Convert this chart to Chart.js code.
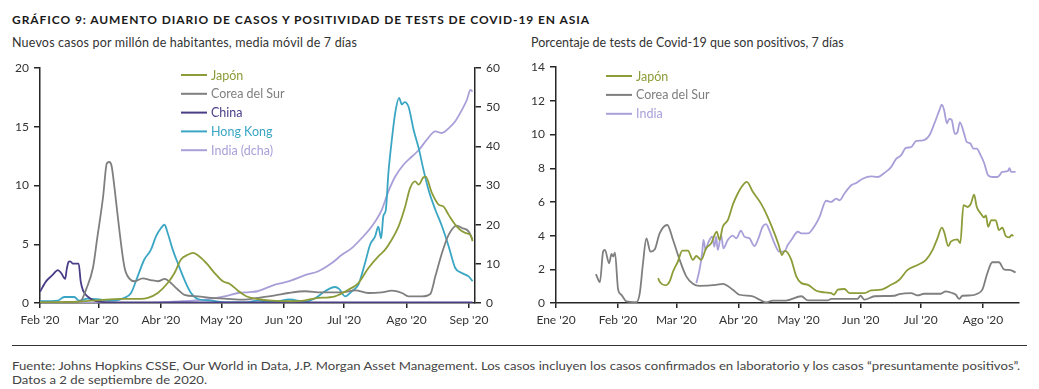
<!DOCTYPE html>
<html>
<head>
<meta charset="utf-8">
<script src="https://cdn.jsdelivr.net/npm/chart.js@4.4.1/dist/chart.umd.min.js"></script>
<style>
  body { margin: 0; width: 1039px; height: 389px; background: #fff; position: relative; overflow: hidden; font-family: Lato, "Open Sans", sans-serif; }
  .t { position: absolute; white-space: nowrap; }
  #title { left: 12px; top: 13px; font-size: 12px; line-height: 14px; font-weight: bold; color: #1a1a1a; }
  #subL { left: 12px; top: 35px; font-size: 12.5px; line-height: 15px; color: #333; }
  #subR { left: 531px; top: 35px; font-size: 12.5px; line-height: 15px; color: #333; }
  #rule { position: absolute; left: 12px; top: 345px; width: 1015px; height: 1px; background: #333; }
  .foot { font-size: 11px; line-height: 14px; color: #444; transform-origin: left center; }
  #foot1 { left: 12px; top: 359px; }
  #foot2 { left: 12px; top: 373px; }
  .box { position: absolute; top: 55px; height: 280px; }
  #boxL { left: 0; width: 520px; }
  #boxR { left: 520px; width: 519px; }
</style>
</head>
<body>
<div class="t" id="title">GRÁFICO 9: AUMENTO DIARIO DE CASOS Y POSITIVIDAD DE TESTS DE COVID-19 EN ASIA</div>
<div class="t" id="subL">Nuevos casos por millón de habitantes, media móvil de 7 días</div>
<div class="t" id="subR">Porcentaje de tests de Covid-19 que son positivos, 7 días</div>
<div class="box" id="boxL"><canvas id="left" width="520" height="280"></canvas></div>
<div class="box" id="boxR"><canvas id="right" width="519" height="280"></canvas></div>
<div id="rule"></div>
<div class="t foot" id="foot1">Fuente: Johns Hopkins CSSE, Our World in Data, J.P. Morgan Asset Management. Los casos incluyen los casos confirmados en laboratorio y los casos “presuntamente positivos”.</div>
<div class="t foot" id="foot2">Datos a 2 de septiembre de 2020.</div>
<script>
// ---- left chart: days since 1 Feb 2020 ----
const leftTickDays = [0, 29, 60, 90, 121, 151, 182, 213];
const leftTickLabels = ["Feb '20", "Mar '20", "Abr '20", "May '20", "Jun '20", "Jul '20", "Ago '20", "Sep '20"];

const chinaDays = [0, 3, 6, 8.9, 10.5, 12.5, 13.3, 14.2, 15, 16.4, 19.2, 20.2, 21.3, 23.3, 26.3, 30, 45, 214.8];
const chinaVals = [0.95, 1.84, 2.35, 2.8, 2.55, 2.05, 2.9, 3.5, 3.55, 3.35, 3.35, 1.85, 1.1, 0.6, 0.25, 0.1, 0.05, 0.05];

const koreaLDays = [0, 12, 20, 23, 26.3, 28.4, 31.3, 33.2, 34.3, 35.5, 37, 39.2, 42, 44.5, 47, 51, 55, 58.5, 62, 65, 68.4, 71.7, 78.4, 85, 91.6, 101.6, 108, 116.7, 123.3, 131.6, 139.9, 149.9, 156.5, 163, 169.7, 174.7, 179.7, 183, 189.6, 193.8, 196.3, 199.6, 202.9, 207, 209.5, 212.8, 214.8];
const koreaLVals = [0.05, 0.05, 0.15, 1.2, 3.0, 5.5, 9.0, 11.9, 12.0, 11.7, 9.8, 6.5, 3.0, 2.05, 1.85, 2.1, 1.95, 1.85, 2.05, 1.7, 1.15, 0.7, 0.57, 0.43, 0.37, 0.28, 0.43, 0.65, 0.85, 1.0, 0.91, 0.91, 1.08, 0.85, 0.91, 1.05, 0.85, 0.57, 0.57, 0.77, 2.27, 4.26, 5.8, 6.58, 6.38, 6.1, 5.4];

const japanLDays = [0, 10, 20, 30, 40, 50, 53.5, 58.5, 63.4, 66.8, 70, 73.4, 75.9, 80, 83.3, 86.7, 90.8, 94.1, 98.3, 102.4, 108, 115, 125, 131, 136.6, 146.5, 153.1, 158.1, 163.1, 168, 171.4, 174.7, 178, 181.3, 183.8, 186.3, 188, 190.4, 191.5, 194.6, 197.9, 200.4, 202.9, 207, 211.2, 213.7, 214.8];
const japanLVals = [0.05, 0.08, 0.12, 0.25, 0.35, 0.35, 0.43, 0.85, 1.7, 2.55, 3.7, 4.1, 4.26, 3.83, 3.26, 2.55, 1.85, 1.64, 1.05, 0.57, 0.34, 0.2, 0.15, 0.2, 0.4, 0.57, 1.13, 1.7, 2.98, 3.97, 4.54, 5.4, 6.5, 8.2, 9.8, 10.35, 10.07, 10.7, 10.75, 9.36, 8.37, 8.2, 7.5, 6.5, 5.96, 5.8, 5.25];

const hkDays = [0, 8.7, 12, 17, 19.5, 23.6, 30.3, 36.9, 41.9, 45.2, 48.5, 51.8, 55.1, 57.6, 60.1, 61.8, 63.4, 65.9, 68.4, 71.7, 75, 78.4, 85, 91.6, 101.6, 108, 116, 124, 131.6, 136.6, 141.5, 146.5, 148.5, 151.5, 154.8, 158.1, 161.4, 163.9, 166.4, 168, 169.4, 170.5, 171.7, 173, 174.7, 176.4, 178.3, 179.7, 181, 183, 185.5, 188, 190.4, 192.9, 196.3, 199.6, 202.9, 206.2, 209.5, 212.8, 214.8];
const hkVals = [0.15, 0.2, 0.51, 0.51, 0.2, 0.37, 0.28, 0.2, 0.45, 0.85, 2.27, 3.7, 4.54, 5.67, 6.38, 6.66, 5.96, 4.54, 3.4, 1.98, 0.85, 0.34, 0.2, 0.05, 0.05, 0.2, 0.1, 0.3, 0.1, 0.4, 1.0, 1.36, 1.2, 0.57, 1.0, 1.56, 3.4, 4.96, 5.67, 6.5, 5.5, 7.4, 7.9, 11.06, 13.9, 16.2, 17.45, 16.9, 17.1, 16.7, 14.75, 13.2, 11.35, 9.64, 7.94, 6.53, 4.83, 2.98, 2.55, 2.27, 1.85];

// India on the right-hand axis (dcha)
const indiaLDays = [0, 30, 60, 65, 81.7, 91.6, 98.3, 104, 108, 116.7, 123.3, 131.6, 138.2, 144.9, 149.9, 154.8, 159.8, 164.8, 169.7, 173, 176.4, 180.5, 184.7, 188, 192.1, 196.3, 199.6, 202.9, 206.2, 209.5, 212, 213.7, 214.8];
const indiaLVals = [0, 0, 0.1, 0.3, 0.85, 1.7, 2.55, 2.8, 3.0, 4.7, 5.5, 7.1, 8.1, 10.2, 12.3, 14.0, 16.6, 19.6, 23.8, 28.5, 32.3, 35.3, 37.4, 39.0, 41.7, 43.8, 43.4, 44.6, 46.4, 49.3, 51.9, 54.4, 54.0];

// ---- right chart: days since 1 Jan 2020 ----
const rightTickDays = [0, 31, 60, 91, 121, 152, 182, 213];
const rightTickLabels = ["Ene '20", "Feb '20", "Mar '20", "Abr '20", "May '20", "Jun '20", "Jul '20", "Ago '20"];

const japanRDays = [50.9, 52, 54.7, 56.7, 58.4, 60.8, 63, 65.8, 68.3, 70, 72.4, 74.9, 77.4, 80.2, 81.6, 83.2, 85.7, 88.4, 90.7, 92.8, 95.2, 98.2, 102.3, 105.6, 109, 111.1, 112.7, 114.1, 115.5, 117.4, 119.9, 122.4, 125.7, 129.9, 134, 137.3, 138.6, 140.6, 143.9, 146.4, 153.9, 157.2, 162.2, 167.2, 171.3, 175.4, 180.4, 184.6, 187.9, 190.3, 192.5, 193.7, 195.7, 197, 200.3, 201.7, 203.3, 205.3, 207, 208.6, 209.9, 211.9, 213.6, 214.5, 215.6, 217.2, 219.4, 221, 222.7, 224.4, 226.1, 227.4, 228.2];
const japanRVals = [1.48, 1.22, 1.05, 1.28, 1.87, 2.46, 3.11, 3.11, 2.56, 2.79, 2.56, 3.25, 3.54, 4.23, 3.74, 4.53, 4.92, 5.9, 6.5, 6.93, 7.19, 6.6, 5.9, 5.12, 4.13, 3.44, 2.85, 3.1, 3.0, 2.56, 1.58, 1.18, 1.08, 0.73, 0.63, 0.59, 0.49, 0.79, 0.83, 0.59, 0.59, 0.75, 0.79, 1.08, 1.38, 1.97, 2.26, 2.56, 3.15, 3.84, 4.47, 4.2, 3.38, 3.64, 3.78, 3.55, 5.81, 5.7, 5.9, 6.44, 5.71, 5.32, 5.08, 5.2, 4.53, 4.92, 4.9, 4.33, 4.47, 3.97, 3.9, 4.04, 3.97];

const koreaRDays = [19.9, 21.9, 23.5, 24.4, 26.5, 27.7, 28.5, 29.4, 31, 32.6, 35.1, 40.1, 41.8, 43.4, 45.1, 47.1, 49.3, 51.7, 55.5, 58.4, 61.7, 65, 68.3, 71.6, 79.9, 83.2, 88.2, 91.5, 98.2, 101.5, 104.8, 108.1, 114.7, 122.4, 125.7, 135.6, 137.3, 150.5, 151.9, 153.9, 158.9, 168.8, 171.3, 177.1, 180.4, 183.7, 191.9, 194.5, 197.8, 199.5, 201.1, 202.8, 207, 210.2, 212.7, 215.2, 217.7, 221, 223.5, 226.8, 229.3];
const koreaRVals = [1.71, 1.24, 3.05, 3.15, 2.36, 2.91, 2.76, 2.99, 0.79, 0.49, 0.1, 0.05, 0.59, 2.36, 3.84, 3.05, 3.19, 4.13, 4.63, 3.74, 2.56, 1.58, 1.14, 1.02, 1.08, 1.14, 0.79, 0.49, 0.4, 0.2, 0.04, 0.14, 0.14, 0.4, 0.15, 0.15, 0.25, 0.25, 0.43, 0.2, 0.4, 0.43, 0.53, 0.59, 0.45, 0.55, 0.55, 0.69, 0.59, 0.49, 0.24, 0.43, 0.45, 0.55, 0.79, 1.77, 2.42, 2.42, 2.0, 1.95, 1.81];

const indiaRDays = [70, 71.6, 72.9, 73.6, 74.6, 75.8, 77.9, 79, 79.9, 80.7, 82.4, 83.5, 85.7, 88.2, 89.9, 92.3, 94, 96.5, 99, 100.7, 103.1, 104.8, 106.4, 109, 111.4, 113.9, 115.6, 117.4, 120.7, 122.4, 125.7, 129, 131.5, 134.8, 137.3, 139.8, 141.5, 143.9, 147.3, 149.8, 153, 157.2, 160.5, 163.8, 167.2, 169.7, 172.1, 174.6, 177.1, 179.6, 183, 186.2, 188.7, 191.2, 192.5, 193.7, 195, 196.2, 197.4, 199, 200.3, 201.5, 203.5, 205, 206.6, 208.3, 209.9, 211.9, 213.6, 215.6, 217.8, 220.3, 222.7, 225.5, 226.2, 227.1, 229.3];
const indiaRVals = [1.18, 1.97, 2.95, 3.74, 3.15, 3.54, 3.94, 3.35, 3.94, 3.15, 4.03, 3.25, 3.74, 4.0, 3.84, 4.29, 3.94, 3.84, 3.38, 3.74, 4.53, 4.68, 4.33, 3.54, 3.05, 3.05, 3.44, 3.74, 4.23, 4.13, 4.13, 4.57, 5.12, 6.07, 6.0, 6.2, 6.1, 6.5, 6.99, 7.13, 7.38, 7.52, 7.48, 7.72, 8.07, 8.56, 8.76, 9.21, 9.25, 9.61, 9.65, 9.94, 10.63, 11.42, 11.77, 11.42, 10.67, 10.93, 10.87, 10.04, 10.14, 10.73, 10.1, 9.55, 9.49, 9.16, 9.16, 8.76, 8.31, 7.58, 7.48, 7.48, 7.78, 7.84, 8.0, 7.78, 7.78];

const JAPAN = '#8d9c38', KOREA = '#7f7f7f', CHINA = '#4a3d87', HK = '#3aa6c4', INDIA = '#a99fd8';
const AXIS = '#262626', TXT = '#333';
const FONT = 'Lato, "Open Sans", sans-serif';

function pts(days, vals) {
  return days.map((d, i) => ({ x: d, y: vals[i] }));
}

function fitSpacing(id, target) {
  const el = document.getElementById(id);
  const w = el.getBoundingClientRect().width;
  el.style.letterSpacing = ((target - w) / el.textContent.length) + 'px';
}
function fitScale(id, target) {
  const el = document.getElementById(id);
  const w = el.getBoundingClientRect().width;
  el.style.transform = 'scaleX(' + (target / w) + ')';
}
fitSpacing('title', 578);
fitSpacing('subL', 345);
fitSpacing('subR', 313);
fitScale('foot1', 1008);
document.getElementById('foot2').style.transform = document.getElementById('foot1').style.transform;

// legend drawn as short line + coloured label
const lineLegend = {
  id: 'lineLegend',
  afterDraw(chart, args, opts) {
    const ctx = chart.ctx;
    ctx.save();
    ctx.font = '12.5px ' + FONT;
    ctx.textBaseline = 'middle';
    chart.data.datasets.forEach((ds, i) => {
      const y = opts.y + i * opts.gap;
      ctx.strokeStyle = ds.borderColor;
      ctx.lineWidth = 2;
      ctx.beginPath();
      ctx.moveTo(opts.x, y);
      ctx.lineTo(opts.x + 26, y);
      ctx.stroke();
      ctx.fillStyle = ds.borderColor;
      ctx.fillText(ds.label, opts.x + 30, y + 0.5);
    });
    ctx.restore();
  }
};

function line(label, color, data, axis) {
  return { label, data, borderColor: color, backgroundColor: color, borderWidth: 1.8,
           pointRadius: 0, cubicInterpolationMode: 'monotone', yAxisID: axis || 'y' };
}

function xAxis(days, labels, max) {
  return {
    type: 'linear', min: 0, max,
    afterBuildTicks: s => { s.ticks = days.map(v => ({ value: v })); },
    afterFit: s => { s.height = 32; },
    ticks: { autoSkip: false, maxRotation: 0, padding: 5, color: TXT, font: { family: FONT, size: 12 },
             callback: v => labels[days.indexOf(v)] },
    grid: { drawOnChartArea: false, tickLength: 5, color: AXIS, lineWidth: 1.5 },
    border: { color: AXIS, width: 1.5 }
  };
}

function yAxis(pos, max, step, width) {
  return {
    position: pos, min: 0, max,
    afterFit: s => { s.width = width; },
    ticks: { stepSize: step, padding: 5, color: TXT, font: { family: FONT, size: 12 } },
    grid: { drawOnChartArea: false, tickLength: 6, color: AXIS, lineWidth: 1.5 },
    border: { color: AXIS, width: 1.5 }
  };
}

new Chart(document.getElementById('left'), {
  type: 'line',
  data: {
    datasets: [
      line('Japón', JAPAN, pts(japanLDays, japanLVals)),
      line('Corea del Sur', KOREA, pts(koreaLDays, koreaLVals)),
      line('China', CHINA, pts(chinaDays, chinaVals)),
      line('Hong Kong', HK, pts(hkDays, hkVals)),
      line('India (dcha)', INDIA, pts(indiaLDays, indiaLVals), 'y2')
    ]
  },
  options: {
    responsive: false, animation: false,
    layout: { padding: { top: 13, left: 0, right: 0, bottom: 0 } },
    plugins: { legend: { display: false }, tooltip: { enabled: false },
               lineLegend: { x: 181, y: 20, gap: 18.8 } },
    scales: {
      x: xAxis(leftTickDays, leftTickLabels, 216),
      y: yAxis('left', 20, 5, 40),
      y2: yAxis('right', 60, 10, 45)
    }
  },
  plugins: [lineLegend]
});

new Chart(document.getElementById('right'), {
  type: 'line',
  data: {
    datasets: [
      line('Japón', JAPAN, pts(japanRDays, japanRVals)),
      line('Corea del Sur', KOREA, pts(koreaRDays, koreaRVals)),
      line('India', INDIA, pts(indiaRDays, indiaRVals))
    ]
  },
  options: {
    responsive: false, animation: false,
    layout: { padding: { top: 10, left: 0, right: 20, bottom: 0 } },
    plugins: { legend: { display: false }, tooltip: { enabled: false },
               lineLegend: { x: 86, y: 21, gap: 18.9 } },
    scales: {
      x: xAxis(rightTickDays, rightTickLabels, 231),
      y: yAxis('left', 14, 2, 36)
    }
  },
  plugins: [lineLegend]
});
</script>
</body>
</html>
